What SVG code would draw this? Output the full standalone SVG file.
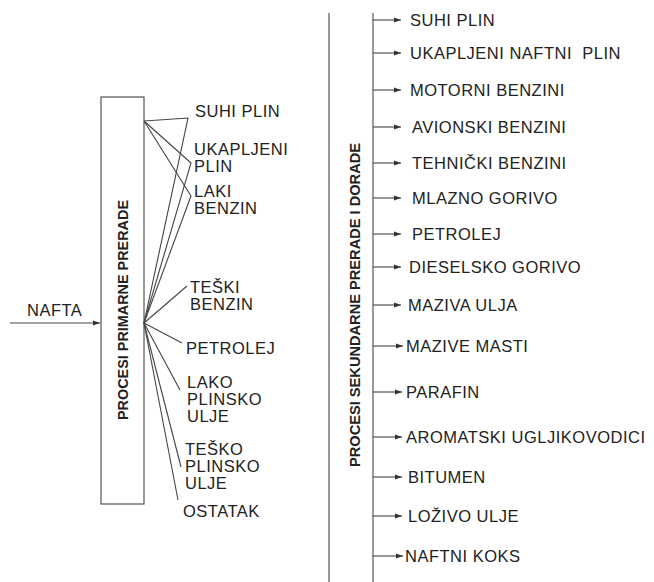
<svg xmlns="http://www.w3.org/2000/svg" width="654" height="582" viewBox="0 0 654 582">
<defs>
<style>
text{font-family:"Liberation Sans",Arial,sans-serif;font-size:16.5px;letter-spacing:0.5px;fill:#222}
.rot{font-weight:bold;font-size:14px;letter-spacing:0}
.ln{stroke:#444;stroke-width:1.1;fill:none}
.ar{stroke:#444;stroke-width:1.1;fill:none;marker-end:url(#ah)}
</style>
<marker id="ah" markerWidth="8" markerHeight="6" refX="7" refY="3" orient="auto" markerUnits="userSpaceOnUse">
<path d="M0,0.5 L7,3 L0,5.5 Z" fill="#333"/>
</marker>
</defs>
<rect width="654" height="582" fill="#fff"/>

<g id="nafta">
<text x="27" y="316">NAFTA</text>
</g>

<g id="primarne">
<rect x="101" y="97" width="43" height="407" fill="#fff" stroke="#444" stroke-width="1.1"/>
<text class="rot" transform="translate(128,310) rotate(-90)" text-anchor="middle" textLength="220" lengthAdjust="spacingAndGlyphs">PROCESI PRIMARNE PRERADE</text>
</g>

<g id="sekundarne">
<line class="ln" x1="329" y1="13" x2="329" y2="582"/>
<text class="rot" transform="translate(360,305) rotate(-90)" text-anchor="middle" textLength="324" lengthAdjust="spacingAndGlyphs">PROCESI SEKUNDARNE PRERADE I DORADE</text>
</g>

<g id="primary-products">
<text x="195" y="117">SUHI PLIN</text>
<text x="194" y="155">UKAPLJENI<tspan x="194" y="172">PLIN</tspan></text>
<text x="194" y="197">LAKI<tspan x="194" y="214">BENZIN</tspan></text>
<text x="190" y="293">TEŠKI<tspan x="190" y="310">BENZIN</tspan></text>
<text x="186" y="354">PETROLEJ</text>
<text x="187" y="388">LAKO<tspan x="187" y="405">PLINSKO</tspan><tspan x="187" y="422">ULJE</tspan></text>
<text x="185" y="455">TEŠKO<tspan x="185" y="472">PLINSKO</tspan><tspan x="185" y="489">ULJE</tspan></text>
<text x="183" y="517">OSTATAK</text>
</g>

<g id="secondary-products">
<text x="410" y="26">SUHI PLIN</text>
<text x="410" y="59" xml:space="preserve">UKAPLJENI NAFTNI  PLIN</text>
<text x="410" y="96">MOTORNI BENZINI</text>
<text x="412" y="133">AVIONSKI BENZINI</text>
<text x="412" y="169">TEHNIČKI BENZINI</text>
<text x="412" y="204">MLAZNO GORIVO</text>
<text x="412" y="240">PETROLEJ</text>
<text x="409" y="273">DIESELSKO GORIVO</text>
<text x="408" y="311">MAZIVA ULJA</text>
<text x="406" y="352">MAZIVE MASTI</text>
<text x="406" y="398">PARAFIN</text>
<text x="406" y="443">AROMATSKI UGLJIKOVODICI</text>
<text x="408" y="483">BITUMEN</text>
<text x="408" y="522">LOŽIVO ULJE</text>
<text x="405" y="562">NAFTNI KOKS</text>
</g>

<g id="connectors">
<line class="ar" x1="10" y1="323" x2="100" y2="323"/>
<polyline class="ln" points="144,121 188,118 144,323"/>
<polyline class="ln" points="144,121 191,163 144,323"/>
<polyline class="ln" points="144,121 191,196 144,323"/>
<line class="ln" x1="144" y1="323" x2="187" y2="286"/>
<line class="ln" x1="144" y1="323" x2="182" y2="343"/>
<line class="ln" x1="144" y1="323" x2="180" y2="390"/>
<line class="ln" x1="144" y1="323" x2="181" y2="467"/>
<line class="ln" x1="144" y1="323" x2="178" y2="500"/>
<line class="ln" x1="373" y1="13" x2="373" y2="582"/>
<line class="ar" x1="373" y1="20" x2="401" y2="20"/>
<line class="ar" x1="373" y1="53" x2="401" y2="53"/>
<line class="ar" x1="373" y1="90" x2="401" y2="90"/>
<line class="ar" x1="373" y1="127" x2="401" y2="127"/>
<line class="ar" x1="373" y1="163" x2="401" y2="163"/>
<line class="ar" x1="373" y1="198" x2="401" y2="198"/>
<line class="ar" x1="373" y1="234" x2="401" y2="234"/>
<line class="ar" x1="373" y1="267" x2="401" y2="267"/>
<line class="ar" x1="373" y1="305" x2="401" y2="305"/>
<line class="ar" x1="373" y1="346" x2="403" y2="346"/>
<line class="ar" x1="373" y1="392" x2="402" y2="392"/>
<line class="ar" x1="373" y1="437" x2="402" y2="437"/>
<line class="ar" x1="373" y1="477" x2="402" y2="477"/>
<line class="ar" x1="373" y1="516" x2="402" y2="516"/>
<line class="ar" x1="373" y1="556" x2="403" y2="556"/>
</g>
</svg>
